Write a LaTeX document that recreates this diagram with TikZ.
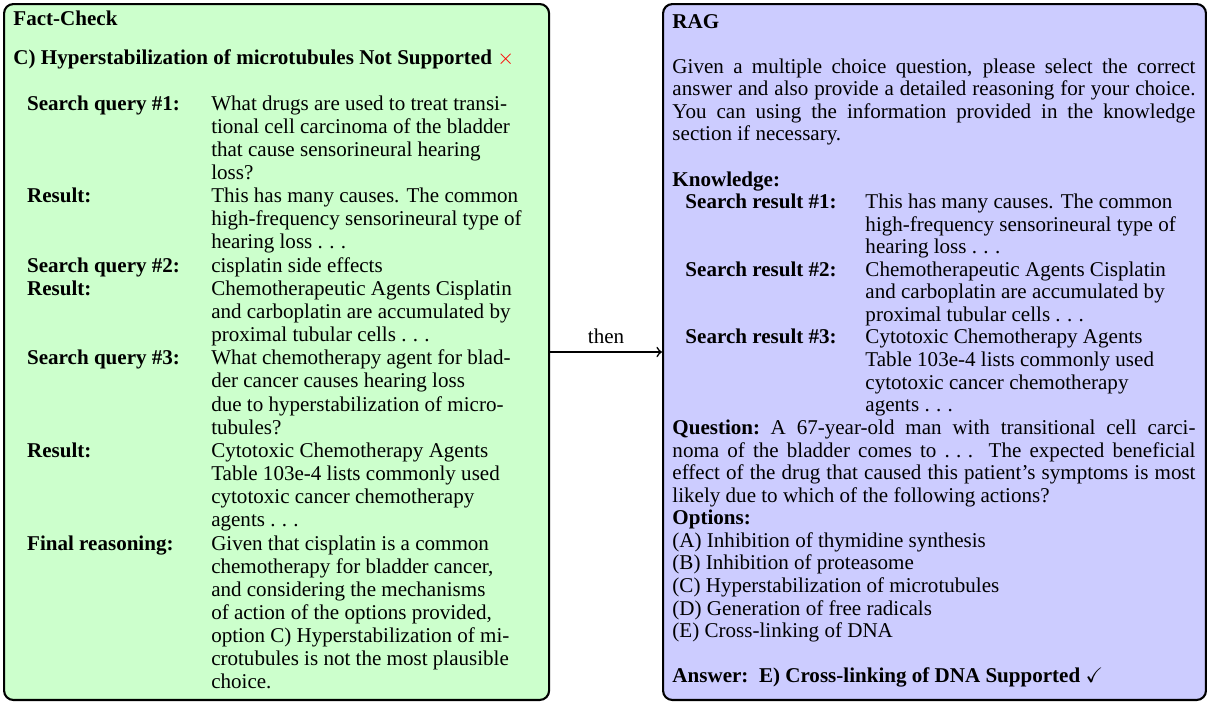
\documentclass[tikz,border=0pt]{standalone}
\usepackage{fontspec}
\setmainfont{Liberation Serif}
\usepackage{amssymb}
\newcommand{\fsz}{\fontsize{9}{9.9}\selectfont}
\newcommand{\fszr}{\fontsize{9}{9.66}\selectfont}
\newcommand{\sdots}{.\kern.3em.\kern.3em.}
\newcommand{\jl}[1]{\makebox[223.6pt][s]{#1}}
\begin{document}
\begin{tikzpicture}[x=0.4275pt,y=-0.4275pt,
  panel/.style={draw=black, line width=0.9pt, rounded corners=4pt, inner sep=0pt,
    anchor=north west, minimum height=297.5pt},
  txt/.style={anchor=base west, inner sep=0pt, font=\fsz},
  head/.style={txt, font=\fsz\bfseries},
  conn/.style={->, line width=0.7pt}]
\useasboundingbox (0,0) rectangle (1207,702);

% panels
\node[panel, fill=green!20, minimum width=233pt] (fc) at (3,3) {};
\node[panel, fill=blue!20, minimum width=232.1pt] (rag) at (662,3) {};

% connector
\draw[conn] (fc.east) -- node[above, font=\fsz] (thenlbl) {then} (rag.west);

% left panel text
\node[head] (fchead) at (13,25) {Fact-Check};
\node[head] (claim) at (13,64) {C) Hyperstabilization of microtubules Not Supported \textcolor{red}{$\times$}};
\node[txt] (fctab) at (26.7,110) {\fsz\begin{tabular}[t]{@{}p{78.7pt}@{}l@{}}
\textbf{Search query \#1:} & What drugs are used to treat transi-\\
 & tional cell carcinoma of the bladder\\
 & that cause sensorineural hearing\\
 & loss?\\
\textbf{Result:} & This has many causes. The common\\
 & high-frequency sensorineural type of\\
 & hearing loss \sdots\\
\textbf{Search query \#2:} & cisplatin side effects\\
\textbf{Result:} & Chemotherapeutic Agents Cisplatin\\
 & and carboplatin are accumulated by\\
 & proximal tubular cells \sdots\\
\textbf{Search query \#3:} & What chemotherapy agent for blad-\\
 & der cancer causes hearing loss\\
 & due to hyperstabilization of micro-\\
 & tubules?\\
\textbf{Result:} & Cytotoxic Chemotherapy Agents\\
 & Table 103e-4 lists commonly used\\
 & cytotoxic cancer chemotherapy\\
 & agents \sdots\\
\textbf{Final reasoning:} & Given that cisplatin is a common\\
 & chemotherapy for bladder cancer,\\
 & and considering the mechanisms\\
 & of action of the options provided,\\
 & option C) Hyperstabilization of mi-\\
 & crotubules is not the most plausible\\
 & choice.
\end{tabular}};

% right panel text
\node[head] (raghead) at (672,28) {RAG};
\node[txt] (instr) at (672,73) {\fszr\begin{tabular}[t]{@{}l@{}}
\jl{Given a multiple choice question, please select the correct}\\
\jl{answer and also provide a detailed reasoning for your choice.}\\
\jl{You can using the information provided in the knowledge}\\
section if necessary.
\end{tabular}};
\node[head] (know) at (672,186) {Knowledge:};
\node[txt] (ragtab) at (685,208.4) {\fszr\begin{tabular}[t]{@{}p{76.95pt}@{}l@{}}
\textbf{Search result \#1:} & This has many causes. The common\\
 & high-frequency sensorineural type of\\
 & hearing loss \sdots\\
\textbf{Search result \#2:} & Chemotherapeutic Agents Cisplatin\\
 & and carboplatin are accumulated by\\
 & proximal tubular cells \sdots\\
\textbf{Search result \#3:} & Cytotoxic Chemotherapy Agents\\
 & Table 103e-4 lists commonly used\\
 & cytotoxic cancer chemotherapy\\
 & agents \sdots
\end{tabular}};
\node[txt] (quest) at (672,434.4) {\fszr\begin{tabular}[t]{@{}l@{}}
\jl{\textbf{Question:}\enspace A 67-year-old man with transitional cell carci-}\\
\jl{noma of the bladder comes to \sdots{} The expected beneficial}\\
\jl{effect of the drug that caused this patient's symptoms is most}\\
likely due to which of the following actions?\\
\textbf{Options:}\\
(A) Inhibition of thymidine synthesis\\
(B) Inhibition of proteasome\\
(C) Hyperstabilization of microtubules\\
(D) Generation of free radicals\\
(E) Cross-linking of DNA
\end{tabular}};
\node[head] (answer) at (672,682) {Answer:\enspace E) Cross-linking of DNA Supported {\mdseries$\checkmark$}};
\end{tikzpicture}
\end{document}
